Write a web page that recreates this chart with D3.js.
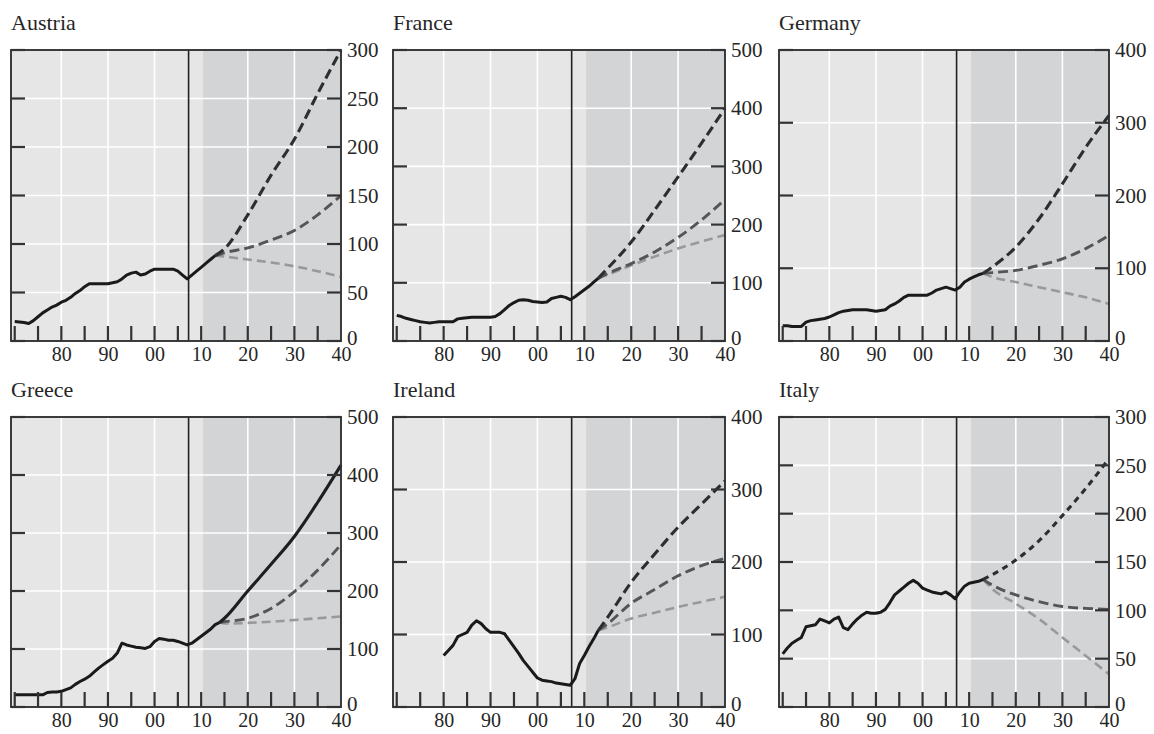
<!DOCTYPE html>
<html>
<head>
<meta charset="utf-8">
<script src="https://cdn.jsdelivr.net/npm/d3@7"></script>
<style>
html,body{margin:0;padding:0;background:#fff;}
svg{display:block;}
text{font-family:"Liberation Serif","DejaVu Serif",serif;fill:#262626;}
</style>
</head>
<body>
<svg id="chart" width="1154" height="734"></svg>
<script>
// ---------- DATA ----------
const countries = ["Austria", "France", "Germany", "Greece", "Ireland", "Italy"];
const yMax = [300, 500, 400, 500, 400, 300];
const yStep = [50, 100, 100, 100, 100, 50];
const xTickLabels = ["80", "90", "00", "10", "20", "30", "40"];
const xTickYears = [1980, 1990, 2000, 2010, 2020, 2030, 2040];

const histStart = [1970, 1970, 1970, 1970, 1980, 1970];
const austriaHist = [20,19.5,19,18,21,25,29,32,35,37,40,42,45,49,52,56,59,59,59,59,59,60,61,64,68,70,71,68,69,72,74,74,74,74,74,72,68,64,68,72,76,80,84,88];
const franceHist = [44,42,39,37,35,33,32,31,32,33,33,33,33,38,39,40,41,41,41,41,41,42,47,54,61,66,70,71,70,68,67,66,67,73,75,77,75,71,76,82,88,94,101,108];
const germanyHist = [21,21,20,20,20,26,28,29,30,31,33,36,39,41,42,43,43,43,43,42,41,42,43,48,51,55,60,63,63,63,63,63,66,70,72,74,72,70,74,81,85,88,91,93];
const greeceHist = [21,21,21,21,21,21,21,25,26,26,27,30,33,39,44,48,53,60,67,73,79,84,93,110,107,105,103,102,101,104,113,118,117,115,115,113,110,107,110,116,122,128,134,142,146];
const irelandHist = [71,78,85,97,100,103,113,119,115,108,103,103,103,101,92,83,74,64,56,48,40,37,36,35,33,32,31,30,39,60,71,83,94,106];
const italyHist = [55,61,66,69,72,83,84,85,91,89,87,91,93,82,80,86,91,95,98,97,97,98,101,108,116,120,124,128,131,128,123,121,119,118,117,119,116,112,119,125,128,129,130,132];

// projection years (first year = last historical year of each country)
const projYears = [
  [2013, 2015, 2020, 2025, 2030, 2035, 2040],
  [2013, 2015, 2020, 2025, 2030, 2035, 2040],
  [2013, 2015, 2020, 2025, 2030, 2035, 2040],
  [2014, 2015, 2020, 2025, 2030, 2035, 2040],
  [2013, 2015, 2020, 2025, 2030, 2035, 2040],
  [2013, 2015, 2020, 2025, 2030, 2035, 2040]
];
// high scenario (darkest)
const projHigh = [
  [88, 95, 130, 171, 208, 255, 300],
  [108, 125, 170, 225, 282, 340, 400],
  [93, 102, 129, 168, 216, 266, 310],
  [146, 153, 200, 246, 294, 353, 417],
  [106, 124, 172, 211, 248, 280, 312],
  [132, 137, 152, 172, 198, 226, 257]
];
// middle scenario
const projMid = [
  [88, 91, 96, 104, 114, 130, 150],
  [108, 116, 133, 153, 178, 208, 243],
  [93, 94, 97, 104, 113, 127, 145],
  [146, 147, 153, 170, 199, 236, 280],
  [106, 115, 143, 162, 181, 195, 205],
  [132, 126, 116, 109, 104, 102, 101]
];
// low scenario (lightest)
const projLow = [
  [88, 87, 84, 81, 77, 72, 66],
  [108, 114, 130, 145, 159, 171, 182],
  [93, 88, 81, 74, 67, 60, 51],
  [146, 144, 145, 147, 150, 153, 156],
  [106, 110, 122, 130, 138, 145, 152],
  [132, 122, 107, 91, 72, 53, 34]
];
const histSeries = [austriaHist, franceHist, germanyHist, greeceHist, irelandHist, italyHist];

// ---------- LAYOUT ----------
const cols = [{x0: 11, x1: 341}, {x0: 393, x1: 725}, {x0: 779, x1: 1109}];
const rows = [{y0: 50, y1: 341}, {y0: 417, y1: 707}];
const xDomain = [1969.2, 2040];
const vLineYear = 2007.3;
const shadeStart = 2010.4;

const svg = d3.select("#chart");

countries.forEach((name, i) => {
  const c = cols[i % 3], r = rows[Math.floor(i / 3)];
  const x = d3.scaleLinear().domain(xDomain).range([c.x0, c.x1]);
  const y = d3.scaleLinear().domain([0, yMax[i]]).range([r.y1, r.y0]);
  const g = svg.append("g");
  const yTicks = d3.range(0, yMax[i] + 1, yStep[i]);

  // backgrounds
  g.append("rect").attr("x", c.x0).attr("y", r.y0).attr("width", c.x1 - c.x0).attr("height", r.y1 - r.y0).attr("fill", "#e6e6e6");
  g.append("rect").attr("x", x(shadeStart)).attr("y", r.y0).attr("width", c.x1 - x(shadeStart)).attr("height", r.y1 - r.y0).attr("fill", "#d3d4d6");

  // grid
  [1980, 1990, 2000, 2020, 2030].forEach(yr => {
    g.append("line").attr("x1", x(yr)).attr("x2", x(yr)).attr("y1", r.y0).attr("y2", r.y1)
      .attr("stroke", "#fff").attr("stroke-width", 1.6);
  });
  yTicks.filter(v => v > 0 && v < yMax[i]).forEach(v => {
    g.append("line").attr("x1", c.x0).attr("x2", c.x1).attr("y1", y(v)).attr("y2", y(v))
      .attr("stroke", "#fff").attr("stroke-width", 1.6);
  });

  // vertical marker
  g.append("line").attr("x1", x(vLineYear)).attr("x2", x(vLineYear)).attr("y1", r.y0).attr("y2", r.y1)
    .attr("stroke", "#222").attr("stroke-width", 1.6);

  // projections
  const projLine = d3.line().x(d => x(d[0])).y(d => y(d[1])).curve(d3.curveMonotoneX);
  const mk = arr => projYears[i].map((yr, k) => [yr, arr[k]]);
  const dashHigh = name === "Italy" ? "6,5" : "10,5";
  g.append("path").attr("d", projLine(mk(projLow[i]))).attr("fill", "none")
    .attr("stroke", "#999").attr("stroke-width", 2.6).attr("stroke-dasharray", "9,5");
  g.append("path").attr("d", projLine(mk(projMid[i]))).attr("fill", "none")
    .attr("stroke", "#555").attr("stroke-width", 2.9).attr("stroke-dasharray", "10,5");
  g.append("path").attr("d", projLine(mk(projHigh[i]))).attr("fill", "none")
    .attr("stroke", name === "Greece" ? "#1e1e1e" : "#2e2e2e").attr("stroke-width", 3.1)
    .attr("stroke-dasharray", name === "Greece" ? null : dashHigh);

  // history
  const hist = histSeries[i].map((v, k) => [histStart[i] + k, v]);
  g.append("path").attr("d", d3.line().x(d => x(d[0])).y(d => y(d[1]))(hist))
    .attr("fill", "none").attr("stroke", "#1a1a1a").attr("stroke-width", 3).attr("stroke-linejoin", "round");

  // frame
  g.append("rect").attr("x", c.x0).attr("y", r.y0).attr("width", c.x1 - c.x0).attr("height", r.y1 - r.y0)
    .attr("fill", "none").attr("stroke", "#333").attr("stroke-width", 1.9);

  // bottom ticks
  d3.range(1970, 2040, 5).forEach(yr => {
    g.append("line").attr("x1", x(yr)).attr("x2", x(yr)).attr("y1", r.y1).attr("y2", r.y1 - 15)
      .attr("stroke", "#333").attr("stroke-width", 2.2);
  });
  // left & right ticks
  yTicks.forEach(v => {
    g.append("line").attr("x1", c.x0).attr("x2", c.x0 + 14).attr("y1", y(v)).attr("y2", y(v))
      .attr("stroke", "#333").attr("stroke-width", 2.2);
    g.append("line").attr("x1", c.x1).attr("x2", c.x1 - 14).attr("y1", y(v)).attr("y2", y(v))
      .attr("stroke", "#333").attr("stroke-width", 2.2);
  });

  // right axis labels
  const yAxis = d3.axisRight(y).tickValues(yTicks).tickSize(0).tickPadding(6);
  const ya = g.append("g").attr("transform", `translate(${c.x1},0)`).call(yAxis);
  ya.select(".domain").remove();
  ya.selectAll("text").attr("font-size", 21).attr("font-family", "Liberation Serif").attr("fill", "#262626");
  ya.selectAll(".tick").filter(d => d === 0).select("text").attr("dy", "0.15em");

  // bottom axis labels
  const xAxis = d3.axisBottom(x).tickValues(xTickYears).tickFormat((d, k) => xTickLabels[k]).tickSize(0).tickPadding(6);
  const xa = g.append("g").attr("transform", `translate(0,${r.y1})`).call(xAxis);
  xa.select(".domain").remove();
  xa.selectAll("text").attr("font-size", 20).attr("font-family", "Liberation Serif").attr("fill", "#262626");

  // title
  g.append("text").attr("x", c.x0).attr("y", r.y0 - 20).attr("font-size", 22).text(name);
});
</script>
</body>
</html>
